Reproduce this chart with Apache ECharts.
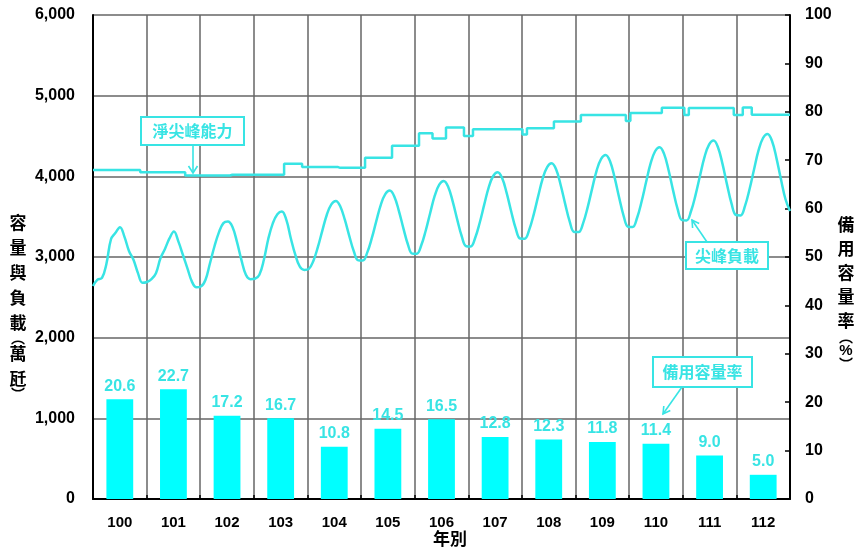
<!DOCTYPE html>
<html>
<head>
<meta charset="utf-8">
<script src="https://cdn.jsdelivr.net/npm/echarts@6/dist/echarts.min.js"></script>
<style>html,body{margin:0;padding:0;background:#fff}#c{width:860px;height:549px}</style>
</head>
<body>
<div id="c"></div>
<script>
const years = ['100','101','102','103','104','105','106','107','108','109','110','111','112'];
const reserveMargin = [20.6, 22.7, 17.2, 16.7, 10.8, 14.5, 16.5, 12.8, 12.3, 11.8, 11.4, 9.0, 5.0];
const leftTicks = [0, 1000, 2000, 3000, 4000, 5000, 6000];
const rightTicks = [0, 10, 20, 30, 40, 50, 60, 70, 80, 90, 100];

// monthly net peak capability (萬瓩), 12 values per year
const netPeakCapability = [
  4080,4080,4080,4080,4080,4080,4080,4080,4080,4080,4080,4050,
  4050,4050,4050,4050,4050,4050,4050,4050,4050,4010,4010,4010,
  4010,4010,4010,4010,4010,4010,4010,4020,4020,4020,4020,4020,
  4020,4020,4020,4020,4020,4020,4020,4155,4155,4155,4155,4115,
  4115,4115,4115,4115,4115,4115,4115,4105,4105,4105,4105,4105,
  4105,4230,4230,4230,4230,4230,4230,4380,4380,4380,4380,4380,
  4380,4535,4535,4535,4470,4470,4470,4605,4605,4605,4605,4500,
  4500,4585,4585,4585,4585,4585,4585,4585,4585,4585,4585,4585,
  4520,4595,4595,4595,4595,4595,4595,4680,4680,4680,4680,4680,
  4680,4760,4760,4760,4760,4760,4760,4760,4760,4760,4760,4685,
  4785,4785,4785,4785,4785,4785,4785,4850,4850,4850,4850,4850,
  4760,4848,4848,4848,4848,4848,4848,4848,4848,4848,4848,4760,
  4760,4853,4853,4762,4762,4762,4762,4762,4762,4762,4762,4762
];

// monthly peak load (萬瓩), 12 values per year
const peakLoad = [
  2640,2720,2740,2920,3220,3300,3370,3250,3075,2965,2800,2680,
  2690,2725,2800,2985,3100,3230,3315,3190,3025,2860,2695,2625,
  2635,2715,2920,3130,3305,3420,3440,3375,3190,2965,2780,2725,
  2730,2780,2965,3230,3420,3530,3565,3460,3230,3025,2880,2840,
  2853,2951,3122,3327,3524,3652,3695,3627,3462,3259,3071,2958,
  2956,3057,3233,3445,3647,3779,3823,3751,3576,3361,3161,3042,
  3040,3145,3329,3549,3760,3897,3943,3869,3687,3464,3257,3134,
  3131,3238,3425,3649,3864,4004,4051,3975,3791,3564,3355,3229,
  3226,3336,3526,3754,3972,4115,4162,4084,3893,3659,3442,3311,
  3309,3420,3615,3848,4072,4217,4266,4184,3984,3738,3511,3374,
  3371,3487,3688,3929,4160,4311,4361,4278,4075,3826,3596,3457,
  3454,3570,3770,4011,4242,4393,4443,4358,4151,3897,3661,3520,
  3516,3634,3839,4085,4321,4475,4526,4438,4223,3960,3716,3570
];

const months = [];
years.forEach(y => { for (let m = 1; m <= 12; m++) months.push(y + '-' + m); });

const CYAN_LINE = '#38E4E4';
const CYAN_BAR = '#00FFFF';
const NUM_FONT = "'Liberation Sans', Arial, sans-serif";
const CJK_FONT = "'Noto Sans CJK TC', 'Noto Sans CJK SC', sans-serif";

const chart = echarts.init(document.getElementById('c'), null, {renderer: 'canvas'});

const annText = (t, x, y) => ({
  type: 'text', z: 100,
  style: {text: t, x: x, y: y, align: 'center', verticalAlign: 'middle',
          fill: CYAN_LINE, font: "bold 16px " + CJK_FONT}
});
const annBox = (x, y, w, h) => ({
  type: 'rect', z: 99,
  shape: {x: x, y: y, width: w, height: h},
  style: {fill: '#fff', stroke: CYAN_LINE, lineWidth: 2}
});
const seg = (pts) => ({
  type: 'polyline', z: 99,
  shape: {points: pts},
  style: {stroke: CYAN_LINE, lineWidth: 1.6, fill: null}
});

chart.setOption({
  animation: false,
  backgroundColor: '#fff',
  grid: {left: 93, right: 70, top: 15, bottom: 50, containLabel: false},
  xAxis: [
    {
      type: 'category', data: years, boundaryGap: true,
      axisLine: {show: true, lineStyle: {color: '#000', width: 2}},
      axisTick: {show: true, inside: true, length: 4, lineStyle: {color: '#000', width: 1.5}},
      axisLabel: {color: '#000', fontWeight: 'bold', fontSize: 15, fontFamily: NUM_FONT, margin: 16},
      splitLine: {show: true, lineStyle: {color: '#666', width: 1.5}}
    },
    {
      type: 'category', data: months, boundaryGap: false, show: false
    }
  ],
  yAxis: [
    {
      type: 'value', min: 0, max: 6000, interval: 1000, position: 'left',
      axisLine: {show: true, lineStyle: {color: '#000', width: 2}},
      axisTick: {show: false},
      axisLabel: {color: '#000', fontWeight: 'bold', fontSize: 16, fontFamily: NUM_FONT, margin: 18,
                  formatter: v => leftTicks.includes(v) ? v.toLocaleString('en-US') : ''},
      splitLine: {show: true, lineStyle: {color: '#666', width: 1.5}}
    },
    {
      type: 'value', min: 0, max: 100, interval: 10, position: 'right',
      axisLine: {show: true, lineStyle: {color: '#000', width: 2}},
      axisTick: {show: true, inside: true, length: 5, lineStyle: {color: '#000', width: 1.5}},
      axisLabel: {color: '#000', fontWeight: 'bold', fontSize: 16, fontFamily: NUM_FONT, margin: 15,
                  formatter: v => rightTicks.includes(v) ? String(v) : ''},
      splitLine: {show: false}
    }
  ],
  series: [
    {
      name: '備用容量率', type: 'bar', xAxisIndex: 0, yAxisIndex: 1,
      data: reserveMargin, barWidth: '50%',
      itemStyle: {color: CYAN_BAR},
      label: {show: true, position: 'top', distance: 5, color: CYAN_LINE, fontWeight: 'bold',
              fontSize: 16, fontFamily: NUM_FONT, formatter: p => p.value.toFixed(1)}
    },
    {
      name: '淨尖峰能力', type: 'line', xAxisIndex: 1, yAxisIndex: 0,
      data: netPeakCapability, step: 'middle', symbol: 'none',
      lineStyle: {color: CYAN_LINE, width: 2.5}
    },
    {
      name: '尖峰負載', type: 'line', xAxisIndex: 1, yAxisIndex: 0,
      data: peakLoad, smooth: 0.4, symbol: 'none',
      lineStyle: {color: CYAN_LINE, width: 2.5}
    }
  ],
  graphic: [
    // y-axis titles
    {
      type: 'text', left: 9, top: 214,
      style: {
        text: '{a|容}\n{a|量}\n{a|與}\n{a|負}\n{a|載}\n{p|︵}\n{a|萬}\n{a|瓩}\n{p|︶}',
        rich: {
          a: {font: "bold 17px " + CJK_FONT, fill: '#000', lineHeight: 25, align: 'center', width: 18},
          p: {font: "bold 14px " + CJK_FONT, fill: '#000', lineHeight: 6, align: 'center', width: 18}
        }
      }
    },
    {
      type: 'text', left: 837, top: 216,
      style: {
        text: '{a|備}\n{a|用}\n{a|容}\n{a|量}\n{a|率}\n{p|︵}\n{b|%}\n{p|︶}',
        rich: {
          a: {font: "bold 17px " + CJK_FONT, fill: '#000', lineHeight: 24, align: 'center', width: 18},
          b: {font: "bold 15px " + NUM_FONT, fill: '#000', lineHeight: 18, align: 'center', width: 18},
          p: {font: "bold 14px " + CJK_FONT, fill: '#000', lineHeight: 9, align: 'center', width: 18}
        }
      }
    },
    {
      type: 'text', z: 100,
      style: {text: '年別', x: 450, y: 539, align: 'center', verticalAlign: 'middle',
              fill: '#000', font: "bold 17px " + CJK_FONT}
    },
    // annotations
    annBox(141, 117, 103, 28), annText('淨尖峰能力', 192.5, 131),
    seg([[193, 145], [193, 173]]), seg([[188.5, 166], [193, 173], [197.5, 166]]),
    annBox(686, 242, 82, 27), annText('尖峰負載', 727, 255.5),
    seg([[707, 242], [692, 220]]), seg([[699.2, 223.5], [692, 220], [692.6, 228]]),
    annBox(653, 357, 99, 30), annText('備用容量率', 702.5, 372),
    seg([[682, 387], [663, 414]]), seg([[670.3, 410.6], [663, 414], [663.8, 406]])
  ]
});
</script>
</body>
</html>
